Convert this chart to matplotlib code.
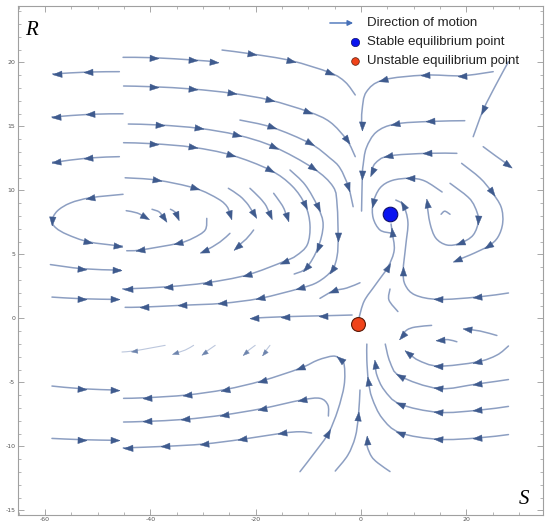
import numpy as np
import matplotlib.pyplot as plt
from matplotlib.markers import MarkerStyle
from matplotlib.path import Path
from matplotlib.patches import PathPatch
from matplotlib.transforms import Affine2D

plt.rcParams['axes.unicode_minus'] = False

# streamlines: (S values, R values, vertices that carry an arrowhead)
upper_left = [
    ([-45.9, -51.9, -57.7, -58.5], [19.27, 19.24, 19.11, 19.09], [1, 2]),
    ([-45.2, -51.4, -57.9, -58.5], [15.98, 15.94, 15.75, 15.73], [1, 2]),
    ([-45.9, -51.9, -57.9, -58.4], [12.63, 12.52, 12.21, 12.19], [1, 2]),
]

upper_flow = [
    ([-45.2, -39.4, -31.9, -28.0], [20.39, 20.36, 20.18, 20.06], [1, 2, 3]),
    ([-26.4, -20.7, -13.3, -5.9, -3.0, -1.1], [20.96, 20.65, 20.13, 19.19, 18.46, 17.45], [1, 2, 3]),
    ([-45.1, -39.4, -31.9, -24.5, -17.3, -10.0, -5.9, -2.7, -1.1],
     [18.15, 18.09, 17.91, 17.58, 17.05, 16.14, 15.34, 13.93, 12.63], [1, 2, 3, 4, 5, 7]),
    ([-23.0, -16.9, -9.7, -5.9, -4.0, -2.4, -1.5], [15.49, 14.92, 13.67, 12.52, 11.74, 10.28, 8.72], [1, 2, 5]),
    ([-44.2, -38.1, -30.7, -23.5, -16.6, -9.1, -5.3, -4.55, -4.36, -4.55, -5.5, -8.2, -11.6, -19.2,
      -26.4, -34.0, -41.3, -44.8],
     [15.18, 15.10, 14.84, 14.32, 13.41, 11.73, 10.28, 8.85, 6.35, 4.87, 3.77, 2.84, 2.34, 1.56,
      1.17, 1.02, 0.88, 0.86], [1, 2, 3, 4, 5, 8, 10, 12, 13, 14, 15, 16]),
    ([-45.1, -39.4, -31.9, -24.7, -17.3, -13.1, -10.6, -9.7, -10.2, -12.3, -14.7, -21.7, -29.3,
      -36.6, -44.2, -45.1],
     [13.72, 13.64, 13.36, 12.76, 11.59, 10.34, 8.85, 7.29, 5.76, 4.90, 4.43, 3.38, 2.78,
      2.47, 2.31, 2.31], [1, 2, 3, 4, 6, 10, 11, 12, 13, 14]),
    ([-44.8, -38.8, -31.5, -27.1, -25.4, -24.9], [10.98, 10.80, 10.16, 9.32, 8.70, 8.07], [1, 2, 5]),
    ([-25.2, -23.0, -21.4, -20.4], [10.16, 9.55, 8.85, 8.15], [3]),
    ([-21.1, -19.2, -18.0, -17.3], [10.16, 9.40, 8.77, 8.07], [3]),
    ([-16.6, -15.4, -14.6, -14.1], [9.77, 9.09, 8.54, 7.91], [3]),
    ([-13.5, -10.6, -8.2, -7.2, -8.2, -10.4, -12.7], [11.59, 10.42, 8.70, 7.29, 5.49, 3.93, 3.46], [2, 4, 5]),
]

ellipse = [
    ([-45.2, -51.4, -55.2, -57.7, -58.7, -57.9, -55.8, -51.8, -46.1, -45.4],
     [9.69, 9.42, 9.01, 8.38, 7.60, 7.05, 6.55, 5.98, 5.67, 5.67], [1, 4, 7, 8]),
    ([-29.3, -29.6, -31.9, -34.7, -41.9, -44.5], [7.81, 6.90, 6.27, 5.86, 5.34, 5.28], [3, 4]),
    ([-44.6, -42.5, -41.0], [8.41, 8.23, 7.89], [2]),
    ([-39.7, -38.3, -37.5], [8.52, 8.30, 7.81], [2]),
    ([-36.2, -35.3, -35.0], [8.52, 8.30, 7.99], [2]),
    ([-24.9, -26.8, -29.3, -29.8], [6.64, 5.96, 5.34, 5.26], [3]),
    ([-20.4, -21.8, -23.6], [6.90, 6.20, 5.59], [2]),
]

upper_right = [
    ([25.1, 19.1, 12.1, 4.2, 1.0, 0.2, 0.1], [19.27, 18.95, 19.0, 18.62, 17.68, 16.27, 15.02], [1, 2, 3, 6]),
    ([19.7, 13.1, 6.5, 2.9, 1.0, 0.4, 0.25, 0.1], [15.44, 15.38, 15.18, 14.55, 13.31, 11.98, 11.20, 8.38], [1, 2, 6]),
    ([18.2, 12.5, 5.2, 2.7, 2.0], [12.89, 12.89, 12.68, 12.11, 11.45], [1, 2, 4]),
    ([28.0, 25.6, 23.2, 21.3], [20.05, 18.23, 16.27, 14.19], [2]),
    ([23.2, 25.6, 28.0], [13.41, 12.68, 11.98], [2]),
    ([19.1, 22.6, 24.8, 26.6, 26.9, 26.0, 24.2, 20.7, 18.2],
     [12.11, 10.96, 9.89, 8.70, 7.45, 6.35, 5.65, 4.95, 4.55], [2, 6, 8]),
    ([16.9, 20.3, 21.6, 22.3, 21.3, 18.8, 16.3, 14.2, 13.1, 12.5],
     [10.55, 9.48, 8.72, 7.68, 6.51, 5.86, 5.73, 6.27, 7.42, 9.01], [3, 5, 9]),
    ([15.2, 15.9, 16.9], [8.13, 8.37, 8.13], []),
]

centre = [
    ([15.4, 12.1, 9.3, 5.9, 3.6, 2.3, 2.3, 3.6, 5.7], [9.87, 10.73, 10.94, 10.77, 10.18, 9.01, 7.84, 6.90, 6.66], [2, 5]),
    ([28.0, 22.0, 14.7, 10.3, 8.4, 8.0, 8.5, 8.9, 8.0, 6.6], [1.98, 1.66, 1.48, 1.82, 2.60, 3.70, 5.73, 7.52, 8.85, 9.24], [1, 2, 5, 8]),
    ([-0.4, 0.6, 2.7, 5.1, 6.3, 5.9, 5.7], [0.02, 1.35, 2.60, 4.01, 5.34, 6.74, 7.37], [3, 5]),
    ([-1.7, -7.2, -14.4, -20.4], [0.26, 0.20, 0.13, 0.02], [1, 2, 3]),
    ([-0.2, -2.7, -5.3, -7.8], [2.78, 2.37, 2.13, 1.56], [2]),
    ([5.5, 5.3, 7.0], [2.29, 1.43, 0.53], []),
]

lower = [
    ([-11.6, -8.7, -6.2, -4.4, -3.2, -3.2, -4.0, -5.3, -8.2, -11.6, -18.8, -25.8, -33.1, -40.7, -45.1],
     [-11.98, -10.43, -8.98, -7.16, -5.21, -3.65, -3.18, -2.95, -3.26, -3.91, -4.88, -5.56, -5.99, -6.20, -6.25],
     [2, 6, 9, 10, 11, 12, 13]),
    ([-6.2, -6.3, -7.8, -11.3, -18.8, -26.1, -33.4, -40.7, -45.1],
     [-7.63, -6.77, -6.25, -6.38, -7.05, -7.55, -7.89, -8.05, -8.10], [3, 4, 5, 6, 7]),
    ([-9.4, -11.6, -15.1, -22.6, -29.9, -37.2, -44.2, -45.1],
     [-8.96, -8.86, -8.98, -9.45, -9.82, -10.0, -10.11, -10.13], [2, 3, 4, 5, 6]),
    ([-4.9, -2.5, -1.1, -0.5, -0.2], [-11.93, -10.68, -9.27, -7.63, -5.60], [3]),
    ([5.5, 3.2, 2.0, 1.2, 1.1], [-11.97, -11.30, -10.80, -10.05, -9.51], [4]),
    ([28.0, 22.0, 14.7, 7.4, 4.0, 2.1, 1.4, 1.1, 1.1],
     [-9.08, -9.35, -9.45, -8.94, -7.79, -6.23, -4.90, -3.26, -2.01], [1, 2, 3, 6]),
    ([28.0, 22.0, 14.7, 7.4, 4.4, 3.0, 2.7], [-6.88, -7.19, -7.34, -6.70, -5.60, -4.43, -3.57], [1, 2, 3, 6]),
    ([28.0, 22.0, 14.7, 7.4, 5.5, 4.6], [-4.78, -5.13, -5.48, -4.51, -3.41, -2.01], [1, 2, 3]),
    ([28.0, 25.8, 22.0, 14.7, 10.8, 9.0], [-2.16, -2.87, -3.41, -3.73, -3.26, -2.67], [2, 3, 5]),
    ([25.8, 22.6, 20.1], [-1.34, -0.99, -0.86], [2]),
    ([13.4, 10.3, 8.7, 7.7], [-0.55, -0.68, -0.91, -1.38], [3]),
    ([18.2, 16.5, 15.0], [-1.83, -1.66, -1.70], [2]),
]

left_rows = [
    ([-59.0, -53.0, -46.4, -45.9], [4.20, 3.88, 3.77, 3.77], [1, 2]),
    ([-58.7, -53.0, -46.7], [1.66, 1.53, 1.48], [1, 2]),
    ([-58.7, -53.0, -46.7], [-5.29, -5.50, -5.60], [1, 2]),
    ([-58.7, -53.0, -46.7], [-9.38, -9.48, -9.53], [1, 2]),
]

faint = [
    ([-37.2, -40.0, -43.2, -45.4], [-2.11, -2.32, -2.55, -2.63], [2]),
    ([-31.8, -33.4, -35.3], [-2.11, -2.48, -2.73], [2]),
    ([-27.7, -29.0, -29.9], [-2.11, -2.48, -2.73], [2]),
    ([-20.1, -21.3, -22.0], [-2.11, -2.48, -2.73], [2]),
    ([-17.3, -18.0, -18.5], [-2.11, -2.48, -2.73], [2]),
]

stable = (5.5, 8.15)
unstable = (-0.5, -0.47)

line_col = '#8d9fc2'
head_col = '#3f5b8e'

fig = plt.figure(figsize=(5.5, 5.32), dpi=100)
ax = fig.add_axes([18 / 550, 1 - 514.7 / 532, 524.7 / 550, 508.7 / 532])
ax.set_xlim(-65.15, 34.5)
ax.set_ylim(-15.34, 24.4)

tri = Path([(1, 0), (-1, 0.72), (-1, -0.72), (1, 0)])


def smooth_path(xs, ys):
    # Catmull-Rom through the traced points, drawn as cubic Bezier pieces
    p = np.column_stack([xs, ys])
    if len(p) < 3:
        return Path(p)
    q = np.vstack([p[0], p, p[-1]])
    verts = [p[0]]
    codes = [Path.MOVETO]
    for k in range(1, len(q) - 2):
        c1 = q[k] + (q[k + 1] - q[k - 1]) / 6
        c2 = q[k + 1] - (q[k + 2] - q[k]) / 6
        verts += [c1, c2, q[k + 1]]
        codes += [Path.CURVE4] * 3
    return Path(verts, codes)


def draw(ax, xs, ys, heads, col, lw, hcol, hsize):
    ax.add_patch(PathPatch(smooth_path(xs, ys), fc='none', ec=col, lw=lw,
                           capstyle='round', zorder=2))
    p = ax.transData.transform(np.column_stack([xs, ys]))
    for i in heads:
        a = p[max(i - 1, 0)]
        b = p[min(i + 1, len(p) - 1)]
        ang = np.arctan2(b[1] - a[1], b[0] - a[0])
        m = MarkerStyle(tri, transform=Affine2D().rotate(ang))
        ax.plot(xs[i], ys[i], marker=m, ms=hsize, color=hcol, mec=hcol, mew=0.3,
                ls='none', zorder=3)


for group in [upper_left, upper_flow, ellipse, upper_right, centre, lower, left_rows]:
    for xs, ys, heads in group:
        draw(ax, xs, ys, heads, line_col, 1.1, head_col, 6.5)
for xs, ys, heads in faint:
    draw(ax, xs, ys, heads, '#bcc7dd', 0.8, '#6d84ad', 4.5)

ax.plot(*stable, 'o', ms=10.5, color='#0a14f0', mec='#10106a', mew=0.8, zorder=5)
ax.plot(*unstable, 'o', ms=10, color='#f0431a', mec='#5a1a08', mew=0.8, zorder=5)

# legend drawn in axes fraction
ax.annotate('', xy=(0.644, 0.9666), xytext=(0.589, 0.9666), xycoords='axes fraction',
            arrowprops=dict(arrowstyle='-|>', color='#4670b8', lw=1.0, mutation_scale=8))
ax.plot(0.642, 0.9283, 'o', ms=6, color='#0a14f0', mec='#10106a', mew=0.5, transform=ax.transAxes)
ax.plot(0.642, 0.8910, 'o', ms=5.5, color='#f0431a', mec='#5a1a08', mew=0.5, transform=ax.transAxes)
labels = ['Direction of motion', 'Stable equilibrium point', 'Unstable equilibrium point']
for k, lab in enumerate(labels):
    ax.text(0.665, 0.9666 - k * 0.0378, lab, transform=ax.transAxes, fontsize=9.5,
            family='Liberation Sans', color='#222222', va='center', ha='left')

ax.text(0.025, 0.952, 'R', transform=ax.transAxes, fontsize=15, family='Liberation Serif',
        style='italic', va='center', ha='center')
ax.text(0.964, 0.030, 'S', transform=ax.transAxes, fontsize=15, family='Liberation Serif',
        style='italic', va='center', ha='center')

ax.set_xticks([-60, -40, -20, 0, 20])
ax.set_yticks([-15, -10, -5, 0, 5, 10, 15, 20])
ax.xaxis.set_minor_locator(plt.MultipleLocator(5))
ax.yaxis.set_minor_locator(plt.MultipleLocator(1))
ax.tick_params(which='both', direction='in', top=True, right=True, color='#999999',
               labelsize=4.5, labelcolor='#555555', pad=2)
ax.tick_params(which='major', length=4, width=0.6)
ax.tick_params(which='minor', length=2, width=0.5)
for s in ax.spines.values():
    s.set_color('#a0a0a0')
    s.set_linewidth(0.8)

fig.savefig('out.png', dpi=100)
